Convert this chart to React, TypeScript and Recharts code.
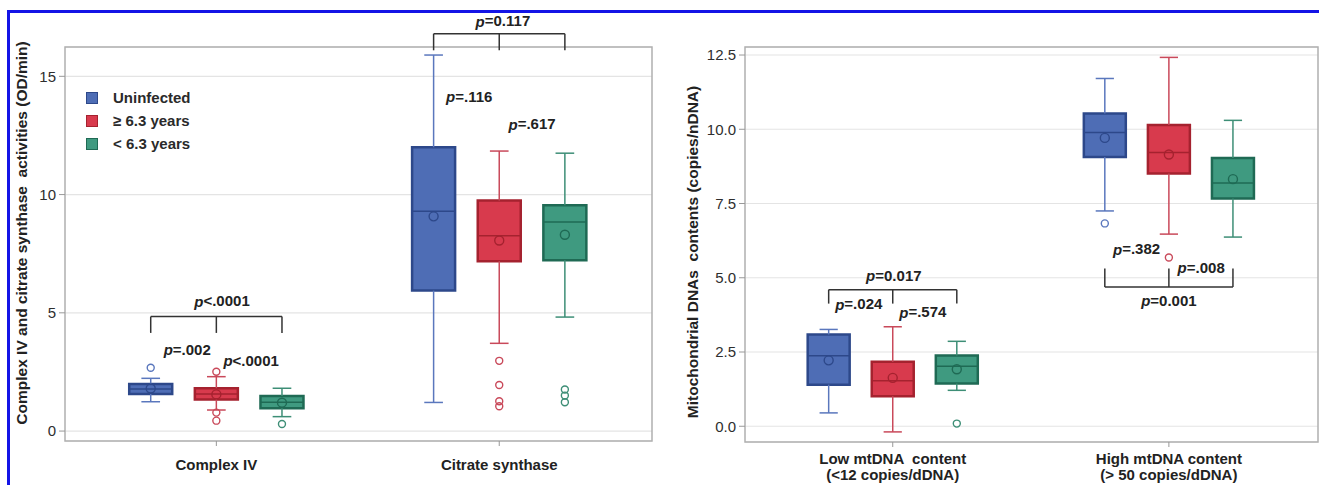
import React from 'react';
import {
  ComposedChart,
  XAxis,
  YAxis,
  CartesianGrid,
  Scatter,
  ReferenceArea,
  ReferenceLine,
  ReferenceDot,
  Legend,
} from 'recharts';

// groups shown in each category
const groups = ['Uninfected', '\u2265 6.3 years', '< 6.3 years'];

// ---- left panel: enzyme activities ----
const leftCategories = [['Complex IV'], ['Citrate synthase']];
const leftTicks = [0, 5, 10, 15];
// [whisker low, Q1, median, Q3, whisker high, mean] per group
const complexIVStats = [
  [1.24, 1.57, 1.78, 1.99, 2.23, 1.8],
  [0.89, 1.34, 1.57, 1.81, 2.3, 1.55],
  [0.61, 0.96, 1.22, 1.48, 1.81, 1.2],
];
const citrateStats = [
  [1.21, 5.94, 9.29, 12.0, 15.9, 9.08],
  [3.71, 7.18, 8.26, 9.75, 11.84, 8.06],
  [4.82, 7.22, 8.84, 9.55, 11.75, 8.3],
];
const complexIVOutliers = [[2.68], [2.51, 0.78, 0.44], [0.3]];
const citrateOutliers = [[], [2.97, 1.95, 1.26, 1.05], [1.76, 1.5, 1.22]];

// ---- right panel: mtDNA contents ----
const rightCategories = [
  ['Low mtDNA  content', '(<12 copies/dDNA)'],
  ['High mtDNA content', '(> 50 copies/dDNA)'],
];
const rightTicks = [0, 2.5, 5, 7.5, 10, 12.5];
const lowStats = [
  [0.45, 1.4, 2.37, 3.09, 3.26, 2.22],
  [-0.19, 1.01, 1.53, 2.17, 3.35, 1.63],
  [1.21, 1.44, 2.02, 2.38, 2.86, 1.92],
];
const highStats = [
  [7.25, 9.07, 9.89, 10.53, 11.71, 9.71],
  [6.47, 8.51, 9.22, 10.14, 12.42, 9.15],
  [6.37, 7.67, 8.19, 9.03, 10.3, 8.32],
];
const lowOutliers = [[], [], [0.09]];
const highOutliers = [[6.83], [5.68], []];

// comparison brackets and p-values
const leftBrackets = [
  { cat: 1, level: 4.84, end: 4.15 },
  { cat: 2, level: 16.8, end: 16.1 },
];
const leftPValues = [
  { cat: 1, shift: 0.02, y: 5.52, text: '<.0001' },
  { cat: 1, shift: -0.103, y: 3.47, text: '=.002' },
  { cat: 1, shift: 0.123, y: 3.0, text: '<.0001' },
  { cat: 2, shift: 0.013, y: 17.34, text: '=0.117' },
  { cat: 2, shift: -0.106, y: 14.16, text: '=.116' },
  { cat: 2, shift: 0.116, y: 13.0, text: '=.617' },
];
const rightBrackets = [
  { cat: 1, level: 4.6, end: 4.13 },
  { cat: 2, level: 4.69, end: 5.31 },
];
const rightPValues = [
  { cat: 1, shift: 0.004, y: 5.08, text: '=0.017' },
  { cat: 1, shift: -0.123, y: 4.13, text: '=.024' },
  { cat: 1, shift: 0.109, y: 3.85, text: '=.574' },
  { cat: 2, shift: 0, y: 4.24, text: '=0.001' },
  { cat: 2, shift: -0.117, y: 5.98, text: '=.382' },
  { cat: 2, shift: 0.117, y: 5.36, text: '=.008' },
];

const groupColors = [
  { fill: '#4e6db5', stroke: '#2d488a', whisker: '#5a77bd' },
  { fill: '#d83a4d', stroke: '#a5222f', whisker: '#c9495a' },
  { fill: '#3f9a80', stroke: '#1f6a54', whisker: '#3d8e76' },
];

const FONT = '"Liberation Sans", Arial, sans-serif';
const X_DOMAIN = [0.465, 2.54];
const GROUP_OFFSET = 0.232;
const BOX_HALF = 0.076;
const CAP_HALF = 0.033;

const groupX = (cat: number, gi: number) => cat + (gi - 1) * GROUP_OFFSET;

function boxMarks(stats: number[][][], key: string) {
  return stats.flatMap((catStats, ci) =>
    catStats.flatMap(([lo, q1, med, q3, hi], gi) => {
      const c = groupColors[gi];
      const x = groupX(ci + 1, gi);
      const k = `${key}-${ci}-${gi}`;
      const line = { strokeWidth: 1.5, ifOverflow: 'visible' as const };
      return [
        <ReferenceLine key={k + 'wh'} segment={[{ x, y: q3 }, { x, y: hi }]} stroke={c.whisker} {...line} />,
        <ReferenceLine key={k + 'wl'} segment={[{ x, y: lo }, { x, y: q1 }]} stroke={c.whisker} {...line} />,
        <ReferenceLine key={k + 'ch'} segment={[{ x: x - CAP_HALF, y: hi }, { x: x + CAP_HALF, y: hi }]} stroke={c.whisker} {...line} />,
        <ReferenceLine key={k + 'cl'} segment={[{ x: x - CAP_HALF, y: lo }, { x: x + CAP_HALF, y: lo }]} stroke={c.whisker} {...line} />,
        <ReferenceArea
          key={k + 'box'}
          x1={x - BOX_HALF}
          x2={x + BOX_HALF}
          y1={q1}
          y2={q3}
          fill={c.fill}
          fillOpacity={1}
          stroke={c.stroke}
          strokeWidth={2.5}
          ifOverflow="visible"
        />,
        <ReferenceLine key={k + 'med'} segment={[{ x: x - BOX_HALF, y: med }, { x: x + BOX_HALF, y: med }]} stroke={c.stroke} {...line} />,
      ];
    })
  );
}

function bracketMarks(brackets: { cat: number; level: number; end: number }[], key: string) {
  return brackets.flatMap((b, i) => {
    const left = groupX(b.cat, 0);
    const right = groupX(b.cat, 2);
    const props = { stroke: '#333', strokeWidth: 1.5, ifOverflow: 'visible' as const };
    return [
      <ReferenceLine key={`${key}${i}h`} segment={[{ x: left, y: b.level }, { x: right, y: b.level }]} {...props} />,
      ...[left, b.cat, right].map((x, j) => (
        <ReferenceLine key={`${key}${i}v${j}`} segment={[{ x, y: b.level }, { x, y: b.end }]} {...props} />
      )),
    ];
  });
}

const PLabel = ({ cx, cy, text }: any) => (
  <text x={cx} y={cy} textAnchor="middle" dominantBaseline="central" fontSize={15} fontWeight="bold" fill="#222">
    <tspan fontStyle="italic">p</tspan>
    {text}
  </text>
);

const ring = (r: number, color: string) => (p: any) => (
  <circle cx={p.cx} cy={p.cy} r={r} fill="none" stroke={color} strokeWidth={1.4} />
);

const renderLegend = () => (
  <div style={{ fontFamily: FONT, fontWeight: 'bold', fontSize: 15, color: '#2a2a2a' }}>
    {groups.map((g, i) => (
      <div key={g} style={{ display: 'flex', alignItems: 'center', height: 23 }}>
        <span
          style={{
            display: 'inline-block',
            width: 10,
            height: 10,
            background: groupColors[i].fill,
            border: `1px solid ${groupColors[i].stroke}`,
            marginRight: 15,
          }}
        />
        {g}
      </div>
    ))}
  </div>
);

type PanelProps = {
  width: number;
  margin: { top: number; right: number; bottom: number; left: number };
  yAxisWidth: number;
  yDomain: number[];
  yTicks: number[];
  tickDigits: number;
  categories: string[][];
  stats: number[][][];
  outliers: number[][][];
  brackets: { cat: number; level: number; end: number }[];
  pValues: { cat: number; shift: number; y: number; text: string }[];
  title: string;
  titleX: number;
  titleShift: number;
  labelDy: number;
  legend?: boolean;
  id: string;
};

function BoxPanel(p: PanelProps) {
  const renderTitle = (lp: any) => {
    const vb = lp.viewBox;
    const x = p.titleX;
    const y = vb.y + vb.height / 2 + p.titleShift;
    return (
      <text
        x={x}
        y={y}
        transform={`rotate(-90, ${x}, ${y})`}
        textAnchor="middle"
        dominantBaseline="central"
        fontSize={15.5}
        fontWeight="bold"
        fill="#222"
        style={{ whiteSpace: 'pre' }}
      >
        {p.title}
      </text>
    );
  };

  const renderXTick = (tp: any) => {
    const lines = p.categories[Math.round(tp.payload.value) - 1] || [];
    return (
      <text
        x={tp.x}
        y={tp.y}
        textAnchor="middle"
        fontSize={15}
        fontWeight="bold"
        fill="#222"
        style={{ whiteSpace: 'pre' }}
      >
        {lines.map((l, i) => (
          <tspan key={i} x={tp.x} dy={i === 0 ? p.labelDy : 16}>
            {l}
          </tspan>
        ))}
      </text>
    );
  };

  return (
    <ComposedChart width={p.width} height={485} margin={p.margin}>
      <CartesianGrid vertical={false} stroke="#e4e4e4" strokeWidth={1.2} />
      <XAxis
        type="number"
        dataKey="x"
        domain={X_DOMAIN}
        ticks={[1, 2]}
        allowDataOverflow
        axisLine={false}
        tickSize={5}
        tickLine={{ stroke: '#999' }}
        tick={renderXTick}
      />
      <YAxis
        type="number"
        dataKey="y"
        domain={p.yDomain}
        ticks={p.yTicks}
        allowDataOverflow
        axisLine={false}
        width={p.yAxisWidth}
        tickSize={6}
        tickMargin={3}
        tickLine={{ stroke: '#999' }}
        tick={{ fontSize: 15, fill: '#2e2e2e' }}
        tickFormatter={(v: number) => v.toFixed(p.tickDigits)}
        label={renderTitle}
      />
      <ReferenceArea
        x1={X_DOMAIN[0]}
        x2={X_DOMAIN[1]}
        y1={p.yDomain[0]}
        y2={p.yDomain[1]}
        fill="none"
        stroke="#b0b0b0"
        strokeWidth={1.5}
        ifOverflow="visible"
      />
      {boxMarks(p.stats, p.id)}
      {groups.map((g, gi) => (
        <Scatter
          key={`m${gi}`}
          name={g}
          data={p.stats.map((cs, ci) => ({ x: groupX(ci + 1, gi), y: cs[gi][5] }))}
          shape={ring(4.5, groupColors[gi].stroke)}
          isAnimationActive={false}
          legendType="none"
        />
      ))}
      {groups.map((g, gi) => (
        <Scatter
          key={`o${gi}`}
          name={`${g} outliers`}
          data={p.outliers.flatMap((co, ci) => co[gi].map((v) => ({ x: groupX(ci + 1, gi), y: v })))}
          shape={ring(3.5, groupColors[gi].whisker)}
          isAnimationActive={false}
          legendType="none"
        />
      ))}
      {bracketMarks(p.brackets, p.id + 'b')}
      {p.pValues.map((pv, i) => (
        <ReferenceDot
          key={`${p.id}p${i}`}
          x={pv.cat + pv.shift}
          y={pv.y}
          r={0}
          ifOverflow="visible"
          shape={(sp: any) => <PLabel cx={sp.cx} cy={sp.cy} text={pv.text} />}
        />
      ))}
      {p.legend && (
        <Legend
          content={renderLegend}
          layout="vertical"
          align="center"
          verticalAlign="middle"
          wrapperStyle={{ left: 86, top: 86, width: 'auto', height: 'auto' }}
        />
      )}
    </ComposedChart>
  );
}

export default function App() {
  return (
    <div
      style={{
        position: 'relative',
        width: 1319,
        height: 485,
        overflow: 'hidden',
        background: '#fff',
        fontFamily: FONT,
      }}
    >
      <style>{'body{margin:0}'}</style>
      <div
        style={{
          position: 'absolute',
          left: 7,
          top: 10,
          width: 1400,
          height: 600,
          borderTop: '3px solid #1414e6',
          borderLeft: '3px solid #1414e6',
        }}
      />
      <div style={{ position: 'absolute', left: 0, top: 0 }}>
        <BoxPanel
          id="L"
          width={660}
          margin={{ top: 47, right: 8, bottom: 14, left: 15 }}
          yAxisWidth={50}
          yDomain={[-0.42, 16.24]}
          yTicks={leftTicks}
          tickDigits={0}
          categories={leftCategories}
          stats={[complexIVStats, citrateStats]}
          outliers={[complexIVOutliers, citrateOutliers]}
          brackets={leftBrackets}
          pValues={leftPValues}
          title="Complex IV and citrate synthase  activities (OD/min)"
          titleX={21}
          titleShift={-11}
          labelDy={22}
          legend
        />
      </div>
      <div style={{ position: 'absolute', left: 660, top: 0 }}>
        <BoxPanel
          id="R"
          width={659}
          margin={{ top: 47, right: 1, bottom: 13, left: 40 }}
          yAxisWidth={45}
          yDomain={[-0.53, 12.77]}
          yTicks={rightTicks}
          tickDigits={1}
          categories={rightCategories}
          stats={[lowStats, highStats]}
          outliers={[lowOutliers, highOutliers]}
          brackets={rightBrackets}
          pValues={rightPValues}
          title="Mitochondrial DNAs  contents (copies/nDNA)"
          titleX={32}
          titleShift={7.5}
          labelDy={15}
        />
      </div>
    </div>
  );
}
